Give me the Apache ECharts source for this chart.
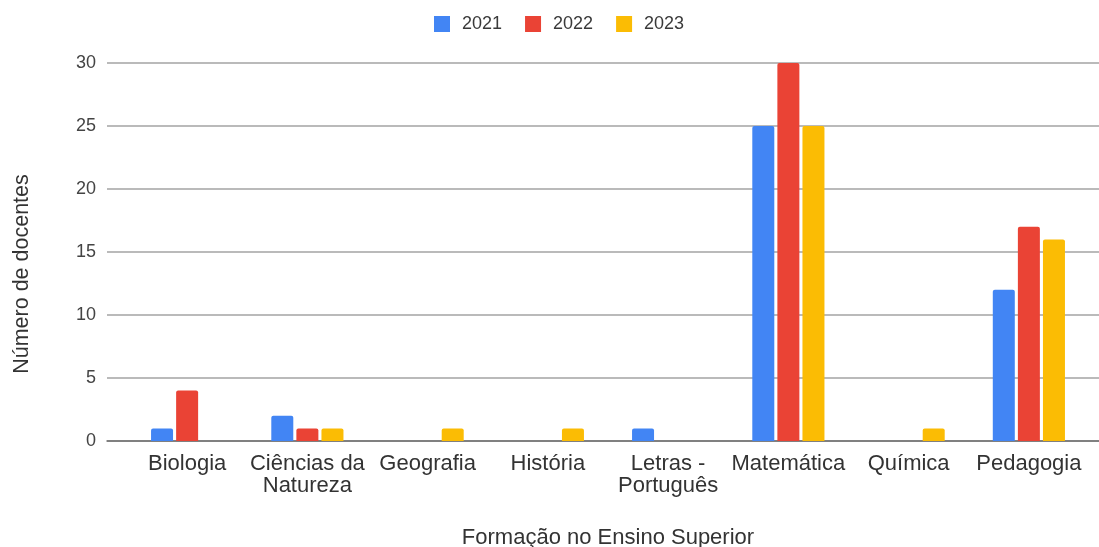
<!DOCTYPE html>
<html>
<head>
<meta charset="utf-8">
<script src="https://cdn.jsdelivr.net/npm/echarts@6/dist/echarts.min.js"></script>
<style>
  html, body { margin: 0; padding: 0; background: #fff; }
  #chart { width: 1099px; height: 547px; }
</style>
</head>
<body>
<div id="chart"></div>
<script>
// Formação dos docentes por área, 2021–2023
const categories = ['Biologia', 'Ciências da\nNatureza', 'Geografia', 'História', 'Letras -\nPortuguês', 'Matemática', 'Química', 'Pedagogia'];
const years = ['2021', '2022', '2023'];
const values2021 = [1, 2, null, null, 1, 25, null, 12];
const values2022 = [4, 1, null, null, null, 30, null, 17];
const values2023 = [null, 1, 1, 1, null, 25, 1, 16];
const yTicks = { min: 0, max: 30, interval: 5 };

const colors = ['#4285F4', '#EA4335', '#FBBC04'];
const FONT = '"Liberation Sans", Arial, sans-serif';

const chart = echarts.init(document.getElementById('chart'), null, { renderer: 'canvas' });

const seriesData = [values2021, values2022, values2023];

chart.setOption({
  animation: false,
  color: colors,
  textStyle: { fontFamily: FONT },
  legend: {
    top: 10,
    left: 429,
    data: years,
    icon: 'rect',
    itemWidth: 16,
    itemHeight: 16,
    itemGap: 23,
    textStyle: { fontSize: 18, color: '#3a3a3a', fontFamily: FONT, padding: [0, 0, 0, 7] }
  },
  grid: [
    // value axis + gridlines spanning the full width
    { left: 107, right: 0, top: 63, bottom: 106, outerBoundsMode: 'none', containLabel: false },
    // bars and category labels
    { left: 127, right: 10, top: 63, bottom: 106, outerBoundsMode: 'none', containLabel: false }
  ],
  xAxis: [
    {
      gridIndex: 0, type: 'category', data: categories,
      axisLine: { show: true, lineStyle: { color: '#6e6e6e', width: 1.5 } },
      axisTick: { show: false }, axisLabel: { show: false }
    },
    {
      gridIndex: 1, type: 'category', data: categories,
      axisLine: { show: false }, axisTick: { show: false },
      axisLabel: {
        interval: 0, margin: 12, fontSize: 22, color: '#333', fontFamily: FONT, lineHeight: 22
      },
      name: 'Formação no Ensino Superior',
      nameLocation: 'middle',
      nameGap: 86,
      nameTextStyle: { fontSize: 22, color: '#333', fontFamily: FONT }
    }
  ],
  yAxis: [
    {
      gridIndex: 0, type: 'value', min: yTicks.min, max: yTicks.max, interval: yTicks.interval,
      axisLine: { show: false }, axisTick: { show: false },
      axisLabel: { margin: 11, fontSize: 18, color: '#444', fontFamily: FONT },
      splitLine: { show: true, lineStyle: { color: '#a3a3a3', width: 1.5 } }
    },
    {
      gridIndex: 1, type: 'value', min: yTicks.min, max: yTicks.max, interval: yTicks.interval,
      axisLine: { show: false }, axisTick: { show: false },
      axisLabel: { show: false }, splitLine: { show: false }
    }
  ],
  graphic: [{
    type: 'text',
    x: 22, y: 274,
    rotation: Math.PI / 2,
    style: {
      text: 'Número de docentes',
      font: '21.5px ' + FONT,
      fill: '#333',
      align: 'center',
      verticalAlign: 'middle'
    }
  }],
  series: years.map((y, i) => ({
    name: y,
    type: 'bar',
    xAxisIndex: 1,
    yAxisIndex: 1,
    data: seriesData[i],
    barWidth: 22,
    barGap: '14%',
    itemStyle: { color: colors[i], borderRadius: [2, 2, 0, 0] }
  }))
});
</script>
</body>
</html>
